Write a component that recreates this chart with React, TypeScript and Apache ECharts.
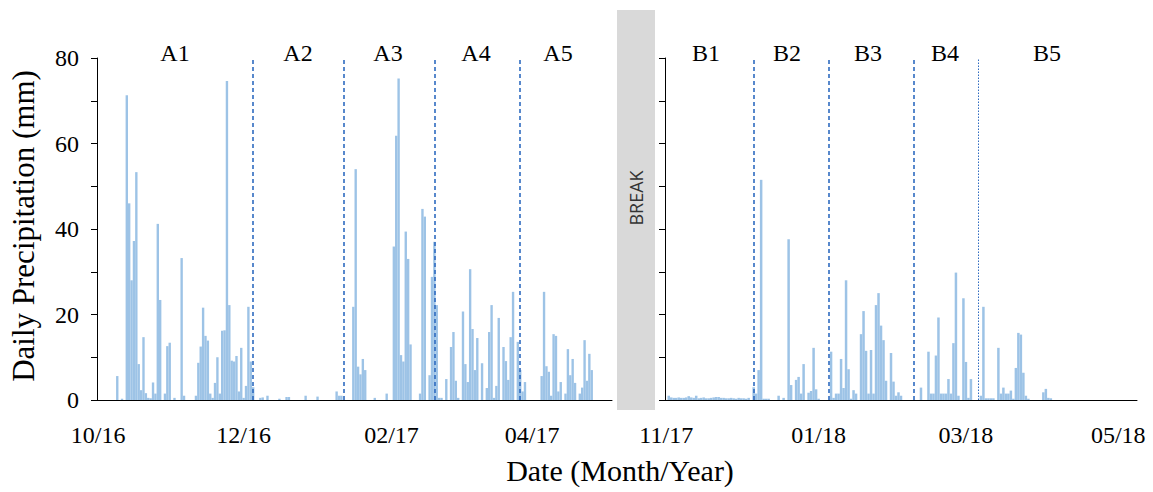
import React, { useEffect, useRef } from "react";
import * as echarts from "echarts";

// ---------- data ----------
const leftStart = "2016-10-01";
const leftDayCount = 216; // 10/01/16 .. 05/04/17
const rightStart = "2017-11-01";
const rightDayCount = 189; // 11/01/17 .. 05/08/18

const leftRain: [string, number][] = [
  ["2016-10-09", 5.6], ["2016-10-11", 0.3], ["2016-10-13", 71.3], ["2016-10-14", 46],
  ["2016-10-15", 28], ["2016-10-16", 37.2], ["2016-10-17", 53.3], ["2016-10-18", 8.4],
  ["2016-10-19", 2.3], ["2016-10-20", 14.7], ["2016-10-21", 1.6], ["2016-10-22", 0.5],
  ["2016-10-23", 0.4], ["2016-10-24", 4.1], ["2016-10-25", 1.5], ["2016-10-26", 41.2],
  ["2016-10-27", 23.4], ["2016-10-29", 1.5], ["2016-10-30", 12.6], ["2016-10-31", 13.4],
  ["2016-11-02", 0.5], ["2016-11-05", 33.2], ["2016-11-06", 1], ["2016-11-11", 1],
  ["2016-11-12", 8.7], ["2016-11-13", 12.5], ["2016-11-14", 21.6], ["2016-11-15", 15],
  ["2016-11-16", 13.9], ["2016-11-17", 1.5], ["2016-11-18", 0.5], ["2016-11-19", 4],
  ["2016-11-20", 10], ["2016-11-21", 1.5], ["2016-11-22", 16.2], ["2016-11-23", 16.3],
  ["2016-11-24", 74.6], ["2016-11-25", 22.2], ["2016-11-26", 9.2], ["2016-11-27", 9],
  ["2016-11-28", 10.3], ["2016-11-29", 2], ["2016-11-30", 12.2], ["2016-12-01", 0.5],
  ["2016-12-02", 3.3], ["2016-12-03", 21.8], ["2016-12-04", 9], ["2016-12-05", 3],
  ["2016-12-08", 0.5], ["2016-12-09", 0.6], ["2016-12-11", 1], ["2016-12-16", 0.3],
  ["2016-12-19", 0.7], ["2016-12-20", 0.7], ["2016-12-27", 1], ["2017-01-01", 0.8],
  ["2017-01-09", 2], ["2017-01-10", 1], ["2017-01-11", 1],
  ["2017-01-16", 21.8], ["2017-01-17", 54], ["2017-01-18", 7.8], ["2017-01-19", 6],
  ["2017-01-20", 9.6], ["2017-01-21", 7], ["2017-01-25", 0.5], ["2017-01-30", 1.5],
  ["2017-02-02", 35.9], ["2017-02-03", 61.8], ["2017-02-04", 75.2], ["2017-02-05", 10.5],
  ["2017-02-06", 9], ["2017-02-07", 39.4], ["2017-02-08", 33], ["2017-02-09", 13],
  ["2017-02-13", 1.5], ["2017-02-14", 44.7], ["2017-02-15", 42.9], ["2017-02-17", 5.8],
  ["2017-02-18", 28.8], ["2017-02-19", 37], ["2017-02-20", 22.2], ["2017-02-21", 0.5],
  ["2017-02-22", 0.5], ["2017-02-24", 4.9], ["2017-02-26", 12.4], ["2017-02-27", 15.9],
  ["2017-02-28", 4.5], ["2017-03-01", 0.5], ["2017-03-03", 20.7], ["2017-03-04", 8.4],
  ["2017-03-05", 4.2], ["2017-03-06", 30.6], ["2017-03-07", 16.6], ["2017-03-08", 7],
  ["2017-03-09", 14.5], ["2017-03-11", 8.6], ["2017-03-13", 2.8], ["2017-03-14", 15.9],
  ["2017-03-15", 22.2], ["2017-03-16", 0.5], ["2017-03-17", 3.3], ["2017-03-18", 19.2],
  ["2017-03-20", 12.4], ["2017-03-21", 9.1], ["2017-03-22", 4.7], ["2017-03-23", 14.7],
  ["2017-03-24", 25.3], ["2017-03-26", 13.6], ["2017-03-27", 7], ["2017-03-28", 2],
  ["2017-03-29", 4.2], ["2017-04-05", 5.6], ["2017-04-06", 25.3], ["2017-04-07", 7.9],
  ["2017-04-08", 6.6], ["2017-04-09", 1], ["2017-04-10", 15.4], ["2017-04-11", 15],
  ["2017-04-12", 2], ["2017-04-13", 4.2], ["2017-04-15", 1.5], ["2017-04-16", 11.9],
  ["2017-04-17", 5.8], ["2017-04-18", 9.6], ["2017-04-19", 4], ["2017-04-21", 1.5],
  ["2017-04-22", 2.9], ["2017-04-23", 14], ["2017-04-24", 4.5], ["2017-04-25", 10.8],
  ["2017-04-26", 7],
];

const rightRain: [string, number][] = [
  ["2017-11-02", 1.0], ["2017-11-03", 0.6], ["2017-11-04", 0.5], ["2017-11-05", 0.5],
  ["2017-11-06", 0.6], ["2017-11-07", 0.5], ["2017-11-08", 0.5], ["2017-11-09", 0.6],
  ["2017-11-10", 0.9], ["2017-11-11", 0.6], ["2017-11-12", 0.5], ["2017-11-13", 1.0],
  ["2017-11-14", 0.4], ["2017-11-15", 0.5], ["2017-11-16", 0.6], ["2017-11-17", 0.4],
  ["2017-11-18", 0.4], ["2017-11-19", 0.5], ["2017-11-20", 0.6], ["2017-11-21", 0.7],
  ["2017-11-22", 0.7], ["2017-11-23", 0.5], ["2017-11-24", 0.5], ["2017-11-25", 0.4],
  ["2017-11-26", 0.4], ["2017-11-27", 0.5], ["2017-11-28", 0.4], ["2017-11-29", 0.3],
  ["2017-11-30", 0.5], ["2017-12-01", 0.4], ["2017-12-02", 0.4], ["2017-12-03", 0.3],
  ["2017-12-04", 0.5], ["2017-12-06", 3], ["2017-12-07", 1.5], ["2017-12-08", 7],
  ["2017-12-09", 51.5], ["2017-12-10", 0.3], ["2017-12-11", 0.3], ["2017-12-12", 0.3],
  ["2017-12-16", 1], ["2017-12-18", 0.5], ["2017-12-20", 37.6], ["2017-12-21", 3.5],
  ["2017-12-23", 4.7], ["2017-12-24", 5.4], ["2017-12-25", 1.5], ["2017-12-26", 8.4],
  ["2017-12-28", 1.7], ["2017-12-29", 2.1], ["2017-12-30", 12.2], ["2017-12-31", 2.5],
  ["2018-01-01", 0.3], ["2018-01-06", 11.3], ["2018-01-07", 0.5], ["2018-01-08", 1.5],
  ["2018-01-09", 1.5], ["2018-01-10", 9.6], ["2018-01-11", 2.8], ["2018-01-12", 28],
  ["2018-01-13", 7.2], ["2018-01-14", 0.3], ["2018-01-15", 2.3], ["2018-01-16", 1.5],
  ["2018-01-18", 15.4], ["2018-01-19", 20.8], ["2018-01-20", 11.5], ["2018-01-21", 1.5],
  ["2018-01-22", 11.7], ["2018-01-23", 1.5], ["2018-01-24", 22.2], ["2018-01-25", 25],
  ["2018-01-26", 17.4], ["2018-01-27", 14], ["2018-01-28", 4.5], ["2018-01-30", 11],
  ["2018-01-31", 4.3], ["2018-02-01", 1], ["2018-02-02", 1.8], ["2018-02-03", 1],
  ["2018-02-11", 2.9], ["2018-02-14", 11.3], ["2018-02-15", 1.5], ["2018-02-16", 1.5],
  ["2018-02-17", 10.4], ["2018-02-18", 19.3], ["2018-02-19", 1.5], ["2018-02-20", 1.5],
  ["2018-02-21", 1.5], ["2018-02-22", 4.9], ["2018-02-23", 1.5], ["2018-02-24", 13.3],
  ["2018-02-25", 29.8], ["2018-02-26", 1], ["2018-02-28", 23.8], ["2018-03-01", 8.9],
  ["2018-03-02", 0.5], ["2018-03-03", 4.9], ["2018-03-07", 1], ["2018-03-08", 21.8],
  ["2018-03-09", 0.4], ["2018-03-10", 0.4], ["2018-03-11", 0.4], ["2018-03-12", 0.4],
  ["2018-03-14", 12.2], ["2018-03-15", 1.5], ["2018-03-16", 2.9], ["2018-03-17", 1.5],
  ["2018-03-18", 1.5], ["2018-03-19", 2.2], ["2018-03-20", 0.3], ["2018-03-21", 7.5],
  ["2018-03-22", 15.7], ["2018-03-23", 15.3], ["2018-03-24", 6.4], ["2018-03-25", 1],
  ["2018-03-26", 0.3], ["2018-04-01", 1.8], ["2018-04-02", 2.6], ["2018-04-03", 0.5],
  ["2018-04-04", 0.4],
];

const leftBoundaries = ["2016-12-05", "2017-01-12", "2017-02-19", "2017-03-27"];
const rightBoundaries = ["2017-12-06", "2018-01-05", "2018-02-08"];
const rightDottedBoundary = "2018-03-06";

const leftPeriodLabels = ["A1", "A2", "A3", "A4", "A5"];
const rightPeriodLabels = ["B1", "B2", "B3", "B4", "B5"];

const leftLabelMonths = ["10", "12", "02", "04"];
const rightLabelMonths = ["11", "01", "03", "05"];

const yMin = 0;
const yMax = 80;
const yStep = 10;
const yLabelStep = 20;

// ---------- helpers ----------
function buildDays(start: string, count: number): string[] {
  const [y, m, d] = start.split("-").map(Number);
  const out: string[] = [];
  for (let i = 0; i < count; i++) {
    out.push(new Date(Date.UTC(y, m - 1, d + i)).toISOString().slice(0, 10));
  }
  return out;
}
function fillSeries(days: string[], rain: [string, number][]): number[] {
  const map = new Map(rain);
  return days.map((d) => map.get(d) ?? 0);
}

const SERIF = "'Liberation Serif', 'Times New Roman', serif";
const BAR = "#9dc3e6";
const DASH = "#2f6bc0";

export default function App() {
  const ref = useRef<HTMLDivElement>(null);
  useEffect(() => {
    document.body.style.margin = "0";
    if (!ref.current) return;
    const chart = echarts.init(ref.current, undefined, { renderer: "svg" });
    const leftDays = buildDays(leftStart, leftDayCount);
    const rightDays = buildDays(rightStart, rightDayCount);

    const xAxisFor = (days: string[], months: string[], gi: number) => ({
      type: "category",
      gridIndex: gi,
      data: days,
      boundaryGap: true,
      axisLine: { lineStyle: { color: "#000", width: 1 } },
      axisTick: {
        interval: (_i: number, v: string) => v.endsWith("-01"),
        length: 6,
        lineStyle: { color: "#000" },
      },
      axisLabel: {
        interval: (_i: number, v: string) => v.endsWith("-01") && months.includes(v.slice(5, 7)),
        formatter: (v: string) => `${v.slice(5, 7)}/${v.slice(2, 4)}`,
        color: "#000",
        fontFamily: SERIF,
        fontSize: 24,
        margin: 23,
      },
      splitLine: { show: false },
    });
    const yAxisFor = (gi: number, showLabels: boolean) => ({
      type: "value",
      gridIndex: gi,
      min: yMin,
      max: yMax,
      interval: yStep,
      axisLine: { show: true, lineStyle: { color: "#000", width: 1 } },
      axisTick: { show: true, length: 6, lineStyle: { color: "#000" } },
      axisLabel: {
        show: showLabels,
        formatter: (v: number) => (v % yLabelStep === 0 ? String(v) : ""),
        color: "#000",
        fontFamily: SERIF,
        fontSize: 24,
        margin: 18,
      },
      splitLine: { show: false },
    });
    const markLineFor = (dashed: string[], dotted?: string) => ({
      silent: true,
      symbol: ["none", "none"],
      label: { show: false },
      lineStyle: { color: DASH, type: [4, 3], width: 1.6 },
      data: [
        ...dashed.map((d) => ({ xAxis: d })),
        ...(dotted
          ? [{ xAxis: dotted, lineStyle: { color: DASH, type: [1.5, 1.5], width: 1 } }]
          : []),
      ],
    });

    const regionText = (text: string, x: number) => ({
      type: "text",
      x,
      y: 53,
      style: {
        text,
        fill: "#000",
        font: `24px ${SERIF}`,
        align: "center",
        verticalAlign: "middle",
      },
    });
    const leftLabelX = [175, 298, 388, 476, 558];
    const rightLabelX = [706, 787, 868, 945, 1047];

    chart.setOption({
      animation: false,
      grid: [
        { left: 97, top: 58, width: 515, height: 342 },
        { left: 665, top: 58, width: 472, height: 342 },
      ],
      xAxis: [xAxisFor(leftDays, leftLabelMonths, 0), xAxisFor(rightDays, rightLabelMonths, 1)],
      yAxis: [yAxisFor(0, true), yAxisFor(1, false)],
      series: [
        {
          type: "bar",
          xAxisIndex: 0,
          yAxisIndex: 0,
          data: fillSeries(leftDays, leftRain),
          itemStyle: { color: BAR },
          barCategoryGap: "0%",
          markLine: markLineFor(leftBoundaries),
        },
        {
          type: "bar",
          xAxisIndex: 1,
          yAxisIndex: 1,
          data: fillSeries(rightDays, rightRain),
          itemStyle: { color: BAR },
          barCategoryGap: "0%",
          markLine: markLineFor(rightBoundaries, rightDottedBoundary),
        },
      ],
      graphic: [
        {
          type: "rect",
          shape: { x: 617, y: 10, width: 38, height: 400 },
          style: { fill: "#d9d9d9" },
        },
        {
          type: "text",
          x: 636,
          y: 198,
          rotation: Math.PI / 2,
          style: {
            text: "BREAK",
            fill: "#333",
            font: "18px 'Open Sans', 'Liberation Sans', sans-serif",
            align: "center",
            verticalAlign: "middle",
          },
        },
        ...leftPeriodLabels.map((t, i) => regionText(t, leftLabelX[i])),
        ...rightPeriodLabels.map((t, i) => regionText(t, rightLabelX[i])),
        {
          type: "text",
          x: 23,
          y: 226,
          rotation: Math.PI / 2,
          style: {
            text: "Daily Precipitation (mm)",
            fill: "#000",
            font: `31px ${SERIF}`,
            align: "center",
            verticalAlign: "middle",
          },
        },
        {
          type: "text",
          x: 620,
          y: 470,
          style: {
            text: "Date (Month/Year)",
            fill: "#000",
            font: `30px ${SERIF}`,
            align: "center",
            verticalAlign: "middle",
          },
        },
      ],
    });
    return () => chart.dispose();
  }, []);
  return <div ref={ref} style={{ width: 1153, height: 492 }} />;
}
